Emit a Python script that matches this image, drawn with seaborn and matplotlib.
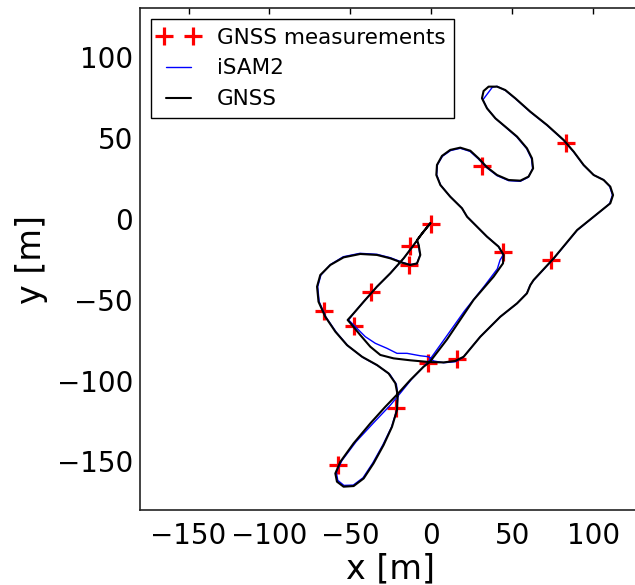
import matplotlib
matplotlib.use("Agg")
import matplotlib.pyplot as plt
from matplotlib.lines import Line2D
from matplotlib.legend_handler import HandlerLine2D
import seaborn as sns
import pandas as pd

# GNSS measurement markers
meas_x = [0, -13, -13.6, -37, -66, -47.6, -2, 16, 44.5, 31.5, 83, 74, -21.6, -57.5]
meas_y = [-3, -17, -28.6, -45, -57, -66, -89, -87, -20.6, 32.5, 46.7, -25.5, -117, -152]

# GNSS trajectory (black)
gnss_x = [-0.6, -4.8, -8.8, -7.8, -6.8, -8.8, -13.0, -18.1, -25.3, -33.6, -43.9, -54.2,
          -62.4, -68.6, -70.6, -69.7, -65.5, -59.3, -52.1, -42.8, -33.6, -26.4, -22.2,
          -20.8, -21.2, -24.3, -29.5, -35.7, -41.8, -48.0, -54.2, -58.3, -59.3, -56.2,
          -48.0, -37.7, -28.4, -20.8, -13.0, -4.8, -1.0, 9.7, 26.1, 38.5, 44.3, 44.7, 41.6,
          34.4, 22.1, 19.0, 11.7, 5.6, 3.1, 3.5, 6.6, 11.7, 17.9, 24.1, 29.2, 34.4, 40.6,
          47.8, 55.0, 60.1, 62.9, 62.2, 59.1, 53.0, 45.7, 39.6, 34.4, 31.3, 32.3, 35.4,
          40.6, 45.7, 51.9, 61.2, 71.5, 81.8, 88.0, 94.1, 100.3, 106.5, 110.6, 112.3,
          110.6, 105.5, 90.1, 75.6, 63.2, 61.2, 59.1, 53.0, 42.6, 30.3, 20.0, 14.8, 7.6,
          -1.0, -13.0, -23.3, -31.5, -37.7, -43.9, -49.0, -51.7, -48.0, -41.8, -33.6,
          -25.3, -17.1, -10.9, -6.0, -0.6]
gnss_y = [-2.8, -8.0, -13.2, -16.3, -22.4, -27.6, -28.6, -27.2, -24.5, -22.4, -21.8, -23.9,
          -28.6, -34.8, -42.0, -51.3, -60.6, -69.8, -78.1, -85.3, -90.4, -95.6, -101.7,
          -109.0, -118.2, -128.6, -139.9, -151.2, -160.5, -165.2, -165.6, -162.5, -157.4,
          -150.2, -138.8, -126.5, -116.2, -108.3, -99.7, -91.5, -88.6, -74.6, -50.2, -35.8,
          -27.6, -22.4, -17.3, -11.1, 1.2, 6.4, 13.6, 20.8, 27.0, 33.2, 38.8, 42.5, 43.9,
          42.0, 37.3, 31.8, 27.0, 23.9, 23.5, 26.0, 31.1, 37.3, 43.5, 50.7, 56.9, 62.0,
          68.2, 74.4, 78.9, 81.6, 81.6, 79.5, 74.4, 66.1, 57.9, 48.6, 41.4, 33.2, 27.0, 23.9,
          19.8, 14.6, 9.5, 5.4, -7.0, -24.5, -37.9, -41.0, -46.1, -52.3, -60.6, -72.9,
          -85.3, -87.9, -88.8, -88.6, -87.5, -86.3, -84.2, -79.1, -71.9, -65.7, -62.6,
          -58.5, -51.3, -42.0, -33.7, -24.5, -16.3, -9.5, -2.8]

# iSAM2 estimate (blue)
isam_x = [-0.6, -4.8, -8.8, -7.9, -7.0, -9.0, -13.2, -18.3, -25.3, -33.6, -44.1, -54.4,
          -62.4, -68.2, -70.2, -69.3, -65.1, -58.7, -51.4, -42.0, -32.8, -25.6, -21.6,
          -20.6, -21.4, -24.6, -30.0, -36.2, -42.2, -48.2, -54.0, -57.8, -58.7, -55.2,
          -46.5, -35.0, -25.3, -19.0, -12.2, -4.5, -1.6, 7.0, 20.5, 32.5, 40.8, 42.5, 44.4,
          41.4, 34.2, 22.0, 18.8, 11.5, 5.6, 3.3, 3.8, 6.9, 11.9, 17.9, 23.9, 29.0, 34.4,
          40.6, 47.8, 55.0, 59.9, 62.6, 61.9, 58.9, 52.8, 45.7, 39.8, 34.6, 31.9, 37.7,
          40.6, 45.7, 51.9, 61.2, 71.5, 81.8, 88.0, 94.1, 100.3, 106.3, 110.2, 111.9,
          110.2, 105.3, 90.1, 75.6, 63.2, 61.0, 58.9, 52.8, 42.4, 30.1, 19.8, 14.8, 7.6,
          1.4, -1.7, -6.8, -15.0, -21.2, -27.4, -34.6, -40.8, -47.0, -51.1, -48.0, -41.8,
          -33.6, -25.3, -17.1, -10.9, -6.0, -0.6]
isam_y = [-2.8, -8.0, -13.2, -16.5, -22.6, -27.8, -28.4, -26.8, -24.1, -22.0, -21.4, -23.5,
          -28.4, -34.8, -42.0, -51.3, -60.8, -70.2, -78.7, -85.9, -91.0, -96.2, -102.3,
          -109.4, -118.4, -128.8, -139.9, -151.0, -160.1, -164.6, -164.8, -161.7, -156.6,
          -149.4, -137.8, -125.4, -115.2, -107.6, -99.2, -91.2, -88.0, -76.0, -57.0, -42.0,
          -31.0, -25.5, -22.4, -17.1, -10.9, 1.4, 6.6, 13.8, 21.0, 27.2, 33.4, 38.6, 42.1,
          43.5, 41.6, 37.0, 31.4, 26.6, 23.5, 23.1, 25.6, 30.9, 37.1, 43.3, 50.5, 56.7,
          61.8, 68.0, 73.5, 81.2, 81.8, 79.3, 74.2, 65.9, 57.7, 48.4, 41.2, 33.0, 27.0,
          24.1, 20.0, 14.6, 9.3, 5.2, -7.2, -24.7, -38.1, -41.2, -46.3, -52.5, -60.8,
          -73.1, -85.5, -88.4, -89.0, -87.9, -85.3, -84.7, -83.2, -83.2, -80.1, -77.0,
          -72.9, -66.7, -62.6, -58.5, -51.3, -42.0, -33.7, -24.5, -16.3, -9.5, -2.8]

meas = pd.DataFrame({"x": meas_x, "y": meas_y})
gnss = pd.DataFrame({"x": gnss_x, "y": gnss_y})
isam = pd.DataFrame({"x": isam_x, "y": isam_y})

sns.set_style("white")
plt.rcParams["font.family"] = ["DejaVu Sans"]
plt.rcParams["text.color"] = "black"
plt.rcParams["axes.labelcolor"] = "black"
plt.rcParams["xtick.color"] = "black"
plt.rcParams["ytick.color"] = "black"
plt.rcParams["xtick.direction"] = "in"
plt.rcParams["ytick.direction"] = "in"
plt.rcParams["xtick.top"] = True
plt.rcParams["ytick.right"] = True

fig = plt.figure(figsize=(6.35, 5.85), dpi=100)
ax = fig.add_axes([140 / 635, 75 / 585, 501.7 / 635, 501.7 / 585])

sns.scatterplot(data=meas, x="x", y="y", marker="+", s=160, color="red",
                linewidth=2.3, ax=ax, zorder=2, legend=False)
sns.lineplot(data=isam, x="x", y="y", sort=False, estimator=None, color="blue",
             linewidth=1.0, ax=ax, zorder=3, legend=False)
sns.lineplot(data=gnss, x="x", y="y", sort=False, estimator=None, color="black",
             linewidth=1.5, ax=ax, zorder=4, legend=False)

ax.set_xlim(-180, 130)
ax.set_ylim(-180, 130)
ax.set_xticks([-150, -100, -50, 0, 50, 100])
ax.set_yticks([-150, -100, -50, 0, 50, 100])
ax.tick_params(labelsize=20, length=4.5, width=1, colors="black")
ax.tick_params(axis="x", pad=8.5)
ax.tick_params(axis="y", pad=5)
ax.set_xlabel("x [m]", fontsize=24, labelpad=2)
ax.set_ylabel("y [m]", fontsize=24, labelpad=6)
for sp in ax.spines.values():
    sp.set_color("#222222")
    sp.set_linewidth(1.2)

h_meas = Line2D([], [], marker="+", linestyle="none", color="red",
                markersize=13, markeredgewidth=2.3)
h_isam = Line2D([], [], color="blue", linewidth=1.0)
h_gnss = Line2D([], [], color="black", linewidth=1.5)
leg = ax.legend([h_meas, h_isam, h_gnss], ["GNSS measurements", "iSAM2", "GNSS"],
                loc="upper left", fontsize=15.5, numpoints=2, handlelength=1.75,
                handletextpad=0.9, labelspacing=0.5, borderpad=0.4, borderaxespad=0,
                fancybox=False, framealpha=1, edgecolor="black",
                bbox_to_anchor=(0.022, 0.9787),
                handler_map={h_meas: HandlerLine2D(marker_pad=0.2, numpoints=2)})
leg.get_frame().set_linewidth(1.0)

fig.savefig("out.png", dpi=100)
